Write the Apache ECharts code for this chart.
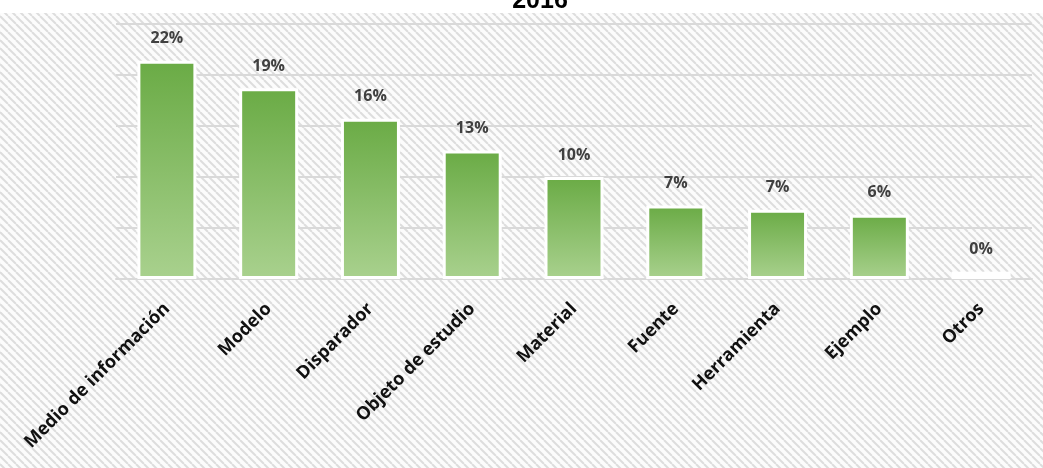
<!DOCTYPE html>
<html>
<head>
<meta charset="utf-8">
<script src="https://cdn.jsdelivr.net/npm/echarts@6/dist/echarts.min.js"></script>
<style>
  html, body { margin: 0; padding: 0; background: #ffffff; }
  #chart { width: 1043px; height: 468px; }
</style>
</head>
<body>
<div id="chart"></div>
<script>
// ---- data ----
var titleText = '2016';
var categories = ['Medio de información', 'Modelo', 'Disparador', 'Objeto de estudio', 'Material', 'Fuente', 'Herramienta', 'Ejemplo', 'Otros'];
var values = [21.4, 18.7, 15.7, 12.6, 10.0, 7.2, 6.8, 6.3, 0.7];
var valueLabels = ['22%', '19%', '16%', '13%', '10%', '7%', '7%', '6%', '0%'];
var axisMin = 0;
var axisMax = 25;
var axisInterval = 5;

// ---- hatched background pattern ----
function makeHatch() {
  var s = 8;
  var c = document.createElement('canvas');
  c.width = s; c.height = s;
  var g = c.getContext('2d');
  g.fillStyle = '#fcfcfc';
  g.fillRect(0, 0, s, s);
  g.strokeStyle = '#dddddd';
  g.lineWidth = 2;
  for (var k = -1; k <= 1; k++) {
    g.beginPath();
    g.moveTo(k * s, 0);
    g.lineTo(k * s + s, s);
    g.stroke();
  }
  return c;
}

var chart = echarts.init(document.getElementById('chart'), null, { renderer: 'canvas' });

var barGradient = new echarts.graphic.LinearGradient(0, 0, 0, 1, [
  { offset: 0, color: '#6aab45' },
  { offset: 1, color: '#a9d18e' }
]);

var seriesData = values.map(function (v, i) {
  var item = { value: v };
  if (i === values.length - 1) {
    item.itemStyle = { color: '#ffffff' };
  }
  return item;
});

chart.setOption({
  animation: false,
  graphic: [
    {
      type: 'rect',
      z: -100,
      silent: true,
      shape: { x: 0, y: 13, width: 1043, height: 455 },
      style: { fill: { image: makeHatch(), repeat: 'repeat' } }
    },
    {
      type: 'text',
      z: 100,
      silent: true,
      style: {
        text: titleText,
        x: 540,
        y: 1,
        align: 'center',
        verticalAlign: 'middle',
        font: 'bold 25px "Liberation Sans", Arial, sans-serif',
        fill: '#000000'
      }
    }
  ],
  grid: { left: 116, right: 11, top: 24, bottom: 189, containLabel: false },
  xAxis: {
    type: 'category',
    data: categories,
    axisLine: { show: true, lineStyle: { color: '#d9d9d9', width: 2 } },
    axisTick: { show: false },
    axisLabel: {
      rotate: 45,
      interval: 0,
      margin: 27,
      color: '#111111',
      fontFamily: '"Open Sans", sans-serif',
      fontWeight: 'bold',
      fontSize: 18
    }
  },
  yAxis: {
    type: 'value',
    min: axisMin,
    max: axisMax,
    interval: axisInterval,
    axisLine: { show: false },
    axisTick: { show: false },
    axisLabel: { show: false },
    splitLine: { show: true, lineStyle: { color: '#d9d9d9', width: 2 } }
  },
  series: [{
    type: 'bar',
    data: seriesData,
    barWidth: 59,
    itemStyle: {
      color: barGradient,
      borderColor: '#ffffff',
      borderWidth: 3
    },
    label: {
      show: true,
      position: 'top',
      distance: 14,
      color: '#404040',
      fontFamily: '"Open Sans", sans-serif',
      fontWeight: 'bold',
      fontSize: 16,
      formatter: function (p) { return valueLabels[p.dataIndex]; }
    }
  }]
});
</script>
</body>
</html>
